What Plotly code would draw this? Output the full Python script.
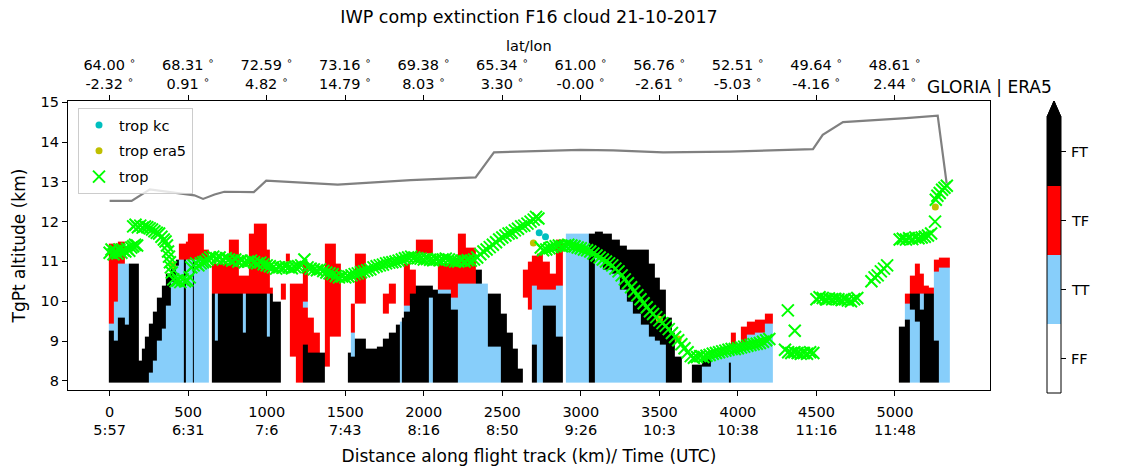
import numpy as np
import plotly.graph_objects as go

# cloud class columns along the track: start km and stacked layers from the bottom
# layer code + top altitude (km); K = FT, R = TF, B = TT, W = FF (empty)
col_start = [
    -5, 25, 55, 100, 125, 186, 205, 225, 250, 275, 300, 330, 360, 390, 420, 440,
    475, 483, 500, 530, 538, 565, 571, 600, 631, 650, 670, 690, 760, 825, 850, 870,
    885, 920, 1000, 1020, 1040, 1092, 1120, 1145, 1185, 1230, 1260, 1300, 1340, 1370,
    1400, 1440, 1475, 1516, 1535, 1560, 1632, 1700, 1740, 1780, 1820, 1845, 1860, 1875,
    1910, 1950, 2030, 2060, 2090, 2171, 2214, 2270, 2330, 2370, 2410, 2490, 2530, 2570,
    2600, 2630, 2660, 2690, 2720, 2760, 2800, 2840, 2885, 2906, 3050, 3090, 3140, 3200,
    3250, 3290, 3330, 3380, 3430, 3470, 3500, 3540, 3580, 3600, 3643, 3706, 3770, 3830,
    3940, 3955, 3990, 4020, 4060, 4110, 4170, 4225, 5025, 5065, 5095, 5125, 5160, 5185,
    5215, 5250, 5280,
]
col_end = 5350
col_layers = [
    "K9.25 B9.45 R11.45", "K9.0 B10.0 R11.45", "K9.6 B10.95 R11.5", "K9.4 B10.95",
    "K10.95", "K8.5", "K8.8", "K9.1", "B8.2 K9.45", "B8.5 K9.75", "B9.0 K10.1",
    "B9.3 K10.4", "B9.9 K10.7", "B10.5 K10.95", "B10.9 K11.05", "B11.05 R11.45",
    "K11.05 R11.45", "B11.05 R11.5", "B11.05 R11.7", "K11.05 R11.7", "B11.05 R11.7",
    "K11.05 R11.7", "B11.05 R11.7", "B11.05 R11.3", "", "K10.2 R10.95",
    "K9.0 B10.2 R10.95", "K10.2 R10.95", "K10.2 R11.55", "K10.2 R10.65",
    "K9.2 B10.2 R10.65", "K10.2 R10.65", "K10.2 R11.7", "K10.2 R11.95",
    "K9.1 B10.2 R11.3", "K10.2 R10.35", "K10.0", "W10.05 R10.45", "W11.0 R11.2",
    "W8.6 R10.45", "R10.45", "K8.9 R9.85 B10.02 R11.0", "K8.7 R9.6", "K8.68 R9.2",
    "K8.68", "W8.35 R11.45", "W9.1 R11.45", "W9.1 R10.95", "", "K8.7",
    "K8.6 B9.2 R9.95", "K9.05 W9.95 R11.2", "K8.8", "K8.85", "K9.05 W9.7 R10.2",
    "K9.2 W9.95 R10.45", "K9.4", "B9.5", "K9.6", "K9.75 B9.9 R10.95", "K10.2 R10.8",
    "K10.4 W11.2 R11.55", "B10.1 K10.4 W11.2 R11.55", "K10.3", "K10.2 B10.3 R10.95",
    "K9.8 B10.1 R11.1", "B10.45 R11.7", "B10.45 R11.35", "B10.45 K10.8", "B10.45",
    "B8.85 K10.2", "K9.7", "K9.2", "K8.8", "K8.3", "W10.1 R10.8", "W9.8 R11.0",
    "K8.9 B10.4 R11.15", "B10.3 R11.2", "K9.9 B10.3 R11.0", "K9.9 B10.3 R10.7",
    "K9.1 B10.4 R11.55", "", "B11.7", "K11.7", "B11.1 K11.75", "B10.8 K11.7",
    "B10.7 K11.55", "B10.3 K11.4", "B10.0 K11.3", "B9.7 K11.3", "B9.4 K11.3",
    "B9.1 K10.95", "B9.0 K10.6", "B8.9 K10.3", "K9.6", "K9.2", "K8.6", "", "K8.4",
    "B8.35 K8.55", "B8.7", "K8.45 B8.7", "B8.9 R9.2", "B8.95", "B8.95 R9.35",
    "B9.15 R9.5", "B9.2 R9.55", "B9.45 R9.7", "", "K9.35", "K9.55 B9.95 R10.2",
    "B9.8 K10.2 R10.65", "B9.5 K10.2 R10.95", "K9.8 B10.2 R10.7", "K10.2 R10.4",
    "K10.2 R10.35", "K9.0 B10.75 R11.05", "B10.85 R11.08",
]

# flight altitude
flight_km = [0, 140, 256, 540, 595, 668, 730, 918, 997, 1452, 1917, 2330, 2447,
             2997, 3206, 3524, 3949, 4478, 4540, 4669, 5071, 5272, 5329]
flight_alt = [12.52, 12.52, 12.81, 12.66, 12.57, 12.68, 12.75, 12.74, 13.03, 12.93,
              13.04, 13.11, 13.74, 13.80, 13.79, 13.74, 13.76, 13.82, 14.18, 14.50,
              14.60, 14.66, 12.96]

# tropopause
trop_km = [0, 12, 25, 38, 50, 62, 75, 88, 100, 112, 125, 138, 150, 162, 175,
           150, 165, 180, 195, 210, 225, 240, 255, 270, 285, 300, 315, 330, 345, 356,
           365, 372, 378, 384, 390, 396,
           405, 420, 435, 450, 465, 480, 495, 510,
           520, 535, 550, 565, 580, 595, 610, 625,
           640, 660, 680, 700, 720, 740, 760, 780, 800, 820, 840, 860, 880, 900, 920,
           940, 960, 980, 1000, 1020, 1040, 1060, 1080,
           1100, 1120, 1140, 1160, 1180, 1200, 1220, 1240, 1260, 1280, 1300, 1320, 1340,
           1360, 1380, 1400, 1420, 1440, 1460, 1480, 1500, 1520, 1540, 1560, 1580, 1600,
           1620, 1640, 1660, 1680, 1700, 1720, 1740, 1760, 1780, 1800, 1820, 1840, 1860,
           1880, 1900, 1920, 1940, 1960, 1980, 2000, 2020, 2040, 2060, 2080, 2100, 2120,
           2140, 2160,
           2180, 2200, 2220, 2240, 2260, 2280, 2300, 2320, 2340, 2360, 2380, 2400, 2420,
           2440, 2460, 2480, 2500, 2520, 2540, 2560, 2580, 2600, 2620, 2640, 2660, 2680,
           2700, 2715, 2730,
           2745, 2760, 2780, 2800, 2820, 2840, 2860, 2880, 2900, 2920, 2940, 2960, 2980,
           3000, 3020, 3040, 3060, 3080, 3100, 3120, 3140, 3160, 3180, 3200, 3220,
           3240, 3260, 3280, 3300, 3320, 3340, 3360, 3380, 3400, 3420, 3440, 3460, 3480,
           3500, 3520, 3540, 3560, 3580, 3600, 3620, 3640, 3660, 3680, 3700, 3720, 3740,
           3760, 3780, 3800, 3820, 3840, 3860, 3880, 3900, 3920, 3940, 3960, 3980, 4000,
           4020, 4040, 4060, 4080, 4100, 4120, 4140, 4160, 4180, 4200,
           4318, 4362, 4300, 4320, 4340, 4360, 4380, 4400, 4420, 4440, 4460, 4480,
           4500, 4520, 4540, 4560, 4580, 4600, 4620, 4640, 4660, 4680, 4700, 4720, 4740,
           4760,
           4850, 4870, 4890, 4910, 4930, 4950,
           5030, 5050, 5070, 5090, 5110, 5130, 5150, 5170, 5190, 5210, 5230,
           5255, 5260, 5270, 5285, 5300, 5315, 5330]
trop_alt = [11.22, 11.3, 11.18, 11.26, 11.2, 11.3, 11.22, 11.28, 11.25, 11.32, 11.27,
            11.35, 11.38, 11.42, 11.4,
            11.88, 11.92, 11.86, 11.9, 11.85, 11.88, 11.86, 11.83, 11.8, 11.76, 11.72,
            11.7, 11.62, 11.55, 11.5,
            11.4, 11.25, 11.12, 10.98, 10.85, 10.72,
            10.55, 10.5, 10.52, 10.48, 10.55, 10.5, 10.52, 10.6,
            10.85, 10.9, 10.95, 10.9, 10.95, 10.98, 11.0, 11.05,
            11.1, 11.12, 11.08, 11.1, 11.05, 11.08, 11.05, 11.02, 11.05, 11.0, 11.02,
            10.98, 11.0, 11.02, 10.98, 10.95, 10.97, 10.93, 10.9, 10.88, 10.85, 10.82,
            10.85,
            10.84, 10.87, 10.85, 10.83, 10.86, 10.88, 10.9, 11.05, 10.85, 10.82, 10.8,
            10.78, 10.8, 10.76, 10.72, 10.7, 10.68, 10.63, 10.6, 10.62, 10.6, 10.62,
            10.65, 10.68, 10.7, 10.73, 10.75, 10.78, 10.8, 10.85, 10.88, 10.9, 10.92,
            10.95, 10.97, 10.98, 11.0, 11.02, 11.05, 11.08, 11.1, 11.12, 11.1, 11.08,
            11.07, 11.05, 11.06, 11.04, 11.03, 11.05, 11.03, 11.05, 11.07, 11.05,
            11.02, 11.0, 11.0, 11.02, 11.0, 11.03, 11.02, 11.05, 11.1, 11.18, 11.25,
            11.3, 11.36, 11.42, 11.48, 11.55, 11.6, 11.65, 11.7, 11.72, 11.78, 11.82,
            11.88, 11.9, 11.95, 12.0, 12.05, 12.12, 12.08,
            11.35, 11.28, 11.3, 11.33, 11.36, 11.38, 11.4, 11.38, 11.4, 11.42, 11.4,
            11.38, 11.35, 11.33, 11.3, 11.28, 11.25, 11.2, 11.15, 11.1, 11.05, 11.0,
            10.95, 10.9, 10.82,
            10.75, 10.65, 10.55, 10.45, 10.35, 10.25, 10.15, 10.05, 9.95, 9.85, 9.75,
            9.68, 9.6, 9.52, 9.45, 9.38, 9.3, 9.2, 9.1, 9.02, 8.92, 8.82, 8.72, 8.62,
            8.58, 8.6, 8.62, 8.6, 8.63, 8.65, 8.68, 8.7, 8.72, 8.74, 8.76, 8.78, 8.8,
            8.8, 8.82, 8.84, 8.86, 8.88, 8.9, 8.92, 8.93, 8.95, 8.98, 9.02, 9.05,
            9.77, 9.26, 8.78, 8.72, 8.7, 8.72, 8.7, 8.68, 8.7, 8.68, 8.72, 8.7,
            10.05, 10.1, 10.08, 10.05, 10.07, 10.05, 10.06, 10.05, 10.03, 10.05, 10.02,
            10.0, 10.05, 10.08,
            10.5, 10.6, 10.65, 10.75, 10.82, 10.9,
            11.55, 11.57, 11.55, 11.58, 11.56, 11.6, 11.58, 11.6, 11.62, 11.65, 11.7,
            12.0, 12.55, 12.65, 12.72, 12.8, 12.85, 12.9]

era5_km = [400, 1000, 2698, 3500, 3620, 5257]
era5_alt = [10.9, 10.9, 11.46, 9.55, 9.05, 12.37]
kc_km = [2735, 2775, 3000]
kc_alt = [11.72, 11.62, 11.33]

dist_ticks = [0, 500, 1000, 1500, 2000, 2500, 3000, 3500, 4000, 4500, 5000]
time_labels = ["5:57", "6:31", "7:6", "7:43", "8:16", "8:50", "9:26", "10:3",
               "10:38", "11:16", "11:48"]
lat_labels = ["64.00", "68.31", "72.59", "73.16", "69.38", "65.34", "61.00",
              "56.76", "52.51", "49.64", "48.61"]
lon_labels = ["-2.32", "0.91", "4.82", "14.79", "8.03", "3.30", "-0.00", "-2.61",
              "-5.03", "-4.16", "2.44"]
class_names = ["FF", "TT", "TF", "FT"]
class_colors = ["white", "#87cefa", "red", "black"]

# build the class grid
code = {"W": None, "B": 1, "R": 2, "K": 3}
y_edges = [round(v, 2) for v in np.arange(7.95, 12.001, 0.05)]
y_mid = [(a + b) / 2 for a, b in zip(y_edges[:-1], y_edges[1:])]
z = [[None] * len(col_start) for _ in y_mid]
for j, layers in enumerate(col_layers):
    lo = 7.95
    for item in layers.split():
        c, top = item[0], float(item[1:])
        for i, ym in enumerate(y_mid):
            if lo < ym < top:
                z[i][j] = code[c]
        lo = top
x_edges = col_start + [col_end]

# plot box in pixels (margins fixed below)
L, R, T, B = 68, 990, 101, 390
W_PX, H_PX = R - L, B - T


def px(x):
    return (x - L) / W_PX


def py(y):
    return (B - y) / H_PX


font = "DejaVu Sans"
xr = [-265, 5605]

fig = go.Figure()
fig.add_trace(go.Heatmap(
    x=x_edges, y=y_edges, z=z, zmin=-0.5, zmax=3.5, showscale=False,
    colorscale=[[0, "white"], [0.25, "white"], [0.25, "#87cefa"], [0.5, "#87cefa"],
                [0.5, "red"], [0.75, "red"], [0.75, "black"], [1, "black"]],
    hoverinfo="skip",
))
fig.add_trace(go.Scatter(
    x=flight_km, y=flight_alt, xaxis="x2", mode="lines",
    line=dict(color="gray", width=2.2), showlegend=False, hoverinfo="skip",
))
fig.add_trace(go.Scatter(
    x=kc_km, y=kc_alt, mode="markers", name="trop kc", legendgroup="a",
    marker=dict(color="#00bfbf", size=7),
))
fig.add_trace(go.Scatter(
    x=era5_km, y=era5_alt, mode="markers", name="trop era5", legendgroup="b",
    marker=dict(color="#bfbf00", size=7),
))
fig.add_trace(go.Scatter(
    x=trop_km, y=trop_alt, mode="markers", name="trop", legendgroup="c",
    marker=dict(symbol="x-thin", size=12, line=dict(color="#00ff00", width=2)),
))

# hand-drawn colorbar with extension triangle
cb_l, cb_r, cb_top, cb_bot = 1047, 1061, 117, 393
seg = (cb_bot - cb_top) / 4
for k, col in enumerate(class_colors):
    y0 = cb_bot - k * seg
    fig.add_shape(type="rect", xref="paper", yref="paper",
                  x0=px(cb_l), x1=px(cb_r), y0=py(y0), y1=py(y0 - seg),
                  fillcolor=col, line=dict(width=0))
    yc = y0 - seg / 2
    fig.add_shape(type="line", xref="paper", yref="paper",
                  x0=px(cb_r), x1=px(cb_r + 5), y0=py(yc), y1=py(yc),
                  line=dict(color="black", width=1))
    fig.add_annotation(text=class_names[k], xref="paper", yref="paper",
                       x=px(cb_r + 8), y=py(yc), xanchor="left", yanchor="middle",
                       showarrow=False, font=dict(size=14.5))
fig.add_shape(type="path", xref="paper", yref="paper",
              path=f"M {px(cb_l)},{py(cb_top)} L {px(cb_l)},{py(cb_bot)} "
                   f"L {px(cb_r)},{py(cb_bot)} L {px(cb_r)},{py(cb_top)} "
                   f"L {px((cb_l + cb_r) / 2)},{py(cb_top - 16)} Z",
              fillcolor="rgba(0,0,0,0)", line=dict(color="black", width=1))
fig.add_shape(type="path", xref="paper", yref="paper",
              path=f"M {px(cb_l)},{py(cb_top)} L {px(cb_r)},{py(cb_top)} "
                   f"L {px((cb_l + cb_r) / 2)},{py(cb_top - 16)} Z",
              fillcolor="black", line=dict(color="black", width=1))
fig.add_annotation(text="GLORIA | ERA5", xref="paper", yref="paper",
                   x=px((cb_l + cb_r) / 2), y=py(87), showarrow=False,
                   font=dict(size=17), yanchor="middle")
fig.add_annotation(text="lat/lon", xref="paper", yref="paper", x=0.5, y=py(46),
                   showarrow=False, font=dict(size=14.5), yanchor="middle")

axis_common = dict(showline=True, linecolor="black", linewidth=1.2, ticks="outside",
                   ticklen=5, tickcolor="black", showgrid=False, zeroline=False,
                   automargin=False, tickfont=dict(size=14.5))
fig.update_layout(
    width=1140, height=470,
    margin=dict(l=L, r=1140 - R, t=T, b=470 - B, autoexpand=False),
    plot_bgcolor="white", paper_bgcolor="white",
    font=dict(family=font, size=14.5, color="black"),
    title=dict(text="IWP comp extinction F16 cloud 21-10-2017", x=0.5, xref="paper",
               y=1 - 17 / 470, yref="container", yanchor="middle",
               font=dict(size=17.5)),
    xaxis=dict(range=xr, tickvals=dist_ticks, ticklabelstandoff=3,
               ticktext=[f"{d}<br>{t}" for d, t in zip(dist_ticks, time_labels)],
               title=dict(text="Distance along flight track (km)/ Time (UTC)",
                          standoff=12),
               **axis_common),
    xaxis2=dict(range=xr, overlaying="x", side="top", tickvals=dist_ticks,
                ticktext=[f"{a} <sup>∘</sup><br>{b} <sup>∘</sup>"
                          for a, b in zip(lat_labels, lon_labels)],
                **axis_common),
    yaxis=dict(range=[7.77, 15.03], dtick=1, mirror=True,
               title=dict(text="TgPt altitude (km)", standoff=10), **axis_common),
    legend=dict(x=px(78), y=py(108), xanchor="left", yanchor="top",
                bgcolor="rgba(255,255,255,0.8)", bordercolor="#cccccc",
                borderwidth=1, font=dict(size=14.5), tracegroupgap=4),
)

fig.write_html("out.html", config={"displayModeBar": False},
               post_script="document.body.style.margin = '0px';")
